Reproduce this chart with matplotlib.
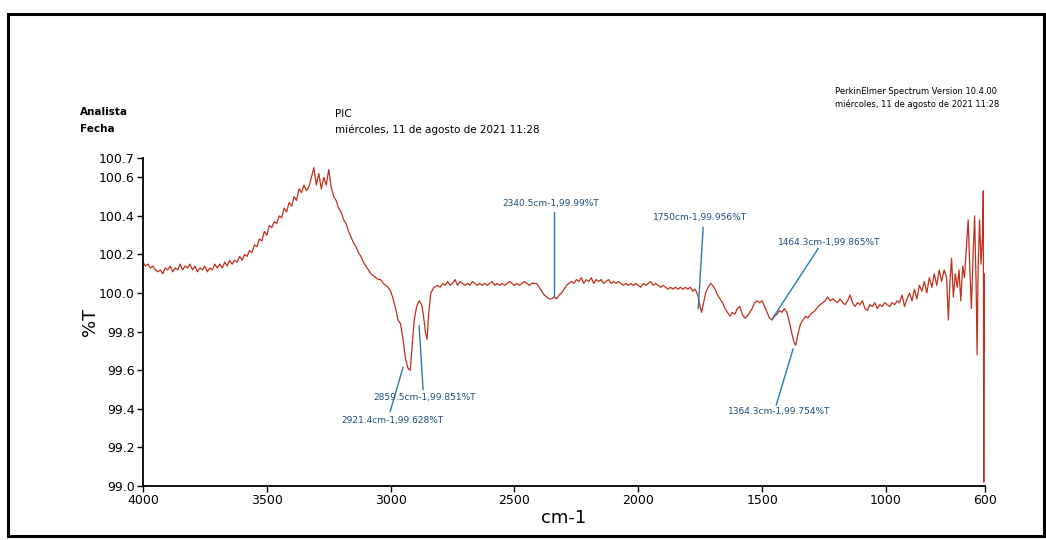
import matplotlib.pyplot as plt
from matplotlib.patches import Rectangle

# 光谱数据 (cm-1, %T)
wn = [4000, 3990, 3980, 3970, 3960, 3950, 3940, 3930, 3920, 3910, 3900, 3890, 3880, 3870, 3860,
      3850, 3840, 3830, 3820, 3810, 3800, 3790, 3780, 3770, 3760, 3750, 3740, 3730, 3720, 3710,
      3700, 3690, 3680, 3670, 3660, 3650, 3640, 3630, 3620, 3610, 3600, 3590, 3580, 3570, 3560,
      3550, 3540, 3530, 3520, 3510, 3500, 3490, 3480, 3470, 3460, 3450, 3440, 3430, 3420, 3410,
      3400, 3390, 3380, 3370, 3360, 3350, 3340, 3330, 3320, 3310, 3300, 3290, 3280, 3270, 3260,
      3250, 3240, 3230, 3220, 3210, 3200, 3190, 3180, 3170, 3160, 3150, 3140, 3130, 3120, 3110,
      3100, 3090, 3080, 3070, 3060, 3050, 3040, 3030, 3020, 3010, 3000, 2990, 2980, 2970, 2960,
      2950, 2940, 2930, 2921, 2915, 2905, 2895, 2885, 2875, 2868, 2860, 2853, 2846, 2838, 2825,
      2810, 2800, 2790, 2780, 2770, 2760, 2750, 2740, 2730, 2720, 2710, 2700, 2690, 2680, 2670,
      2660, 2650, 2640, 2630, 2620, 2610, 2600, 2590, 2580, 2570, 2560, 2550, 2540, 2530, 2520,
      2510, 2500, 2490, 2480, 2470, 2460, 2450, 2440, 2430, 2420, 2410, 2400, 2390, 2380, 2370,
      2360, 2350, 2340, 2330, 2320, 2310, 2300, 2290, 2280, 2270, 2260, 2250, 2240, 2230, 2220,
      2210, 2200, 2190, 2180, 2170, 2160, 2150, 2140, 2130, 2120, 2110, 2100, 2090, 2080, 2070,
      2060, 2050, 2040, 2030, 2020, 2010, 2000, 1990, 1980, 1970, 1960, 1950, 1940, 1930, 1920,
      1910, 1900, 1890, 1880, 1870, 1860, 1850, 1840, 1830, 1820, 1810, 1800, 1790, 1780, 1770,
      1760, 1752, 1745, 1738, 1728, 1718, 1708, 1700, 1690, 1680, 1670, 1660, 1650, 1640, 1630,
      1620, 1610, 1600, 1590, 1580, 1570, 1560, 1550, 1540, 1530, 1520, 1510, 1500, 1490, 1480,
      1470, 1460, 1450, 1440, 1430, 1420, 1410, 1400, 1390, 1380, 1370, 1364, 1355, 1345, 1335,
      1325, 1315, 1305, 1295, 1285, 1275, 1265, 1255, 1245, 1235, 1225, 1215, 1205, 1195, 1185,
      1175, 1165, 1155, 1145, 1135, 1125, 1115, 1105, 1095, 1085, 1075, 1065, 1055, 1045, 1035,
      1025, 1015, 1005, 995, 985, 975, 965, 955, 945, 935, 925, 915, 905, 895, 885,
      875, 865, 855, 845, 835, 825, 815, 805, 795, 785, 775, 765, 755, 748, 742,
      735, 728, 720, 712, 705, 698, 690, 683, 676, 668, 662, 655, 648, 642, 636,
      632, 628, 622, 616, 610, 607, 605, 603, 600]
T = [100.16, 100.14, 100.15, 100.13, 100.14, 100.12, 100.11, 100.12, 100.10, 100.13, 100.12, 100.14, 100.11, 100.13, 100.12,
     100.15, 100.12, 100.14, 100.13, 100.15, 100.12, 100.14, 100.11, 100.13, 100.12, 100.14, 100.11, 100.13, 100.12, 100.15,
     100.13, 100.15, 100.13, 100.16, 100.14, 100.17, 100.15, 100.17, 100.16, 100.19, 100.17, 100.20, 100.19, 100.22, 100.21,
     100.25, 100.24, 100.28, 100.27, 100.32, 100.30, 100.35, 100.34, 100.37, 100.36, 100.40, 100.39, 100.44, 100.42, 100.47,
     100.45, 100.50, 100.48, 100.54, 100.52, 100.56, 100.53, 100.55, 100.60, 100.65, 100.56, 100.62, 100.54, 100.60, 100.56,
     100.64, 100.55, 100.50, 100.48, 100.44, 100.42, 100.38, 100.36, 100.32, 100.29, 100.26, 100.24, 100.21, 100.19, 100.16,
     100.14, 100.12, 100.10, 100.09, 100.08, 100.07, 100.07, 100.05, 100.04, 100.03, 100.01, 99.97, 99.92, 99.86, 99.84,
     99.76, 99.66, 99.61, 99.60, 99.70, 99.86, 99.93, 99.96, 99.94, 99.89, 99.80, 99.76, 99.90, 100.00, 100.03,
     100.04, 100.03, 100.05, 100.04, 100.06, 100.04, 100.05, 100.07, 100.04, 100.06, 100.05, 100.04, 100.05, 100.04, 100.06,
     100.05, 100.04, 100.05, 100.04, 100.05, 100.04, 100.05, 100.06, 100.04, 100.05, 100.04, 100.05, 100.04, 100.05, 100.06,
     100.05, 100.04, 100.05, 100.04, 100.05, 100.06, 100.05, 100.04, 100.05, 100.05, 100.05, 100.03, 100.01, 99.99, 99.98,
     99.97, 99.97, 99.98, 99.97, 99.99, 100.00, 100.02, 100.04, 100.05, 100.06, 100.05, 100.07, 100.06, 100.08, 100.05,
     100.07, 100.06, 100.08, 100.05, 100.07, 100.06, 100.07, 100.05, 100.06, 100.07, 100.05, 100.06, 100.05, 100.06, 100.05,
     100.04, 100.05, 100.04, 100.05, 100.04, 100.05, 100.04, 100.03, 100.05, 100.04, 100.05, 100.06, 100.04, 100.05, 100.04,
     100.03, 100.04, 100.03, 100.02, 100.03, 100.02, 100.03, 100.02, 100.03, 100.02, 100.03, 100.02, 100.03, 100.01, 100.02,
     99.99, 99.94, 99.90, 99.94, 100.00, 100.03, 100.05, 100.04, 100.02, 99.99, 99.97, 99.95, 99.92, 99.90, 99.88,
     99.90, 99.89, 99.92, 99.93, 99.89, 99.87, 99.88, 99.90, 99.92, 99.95, 99.96, 99.95, 99.96, 99.93, 99.90,
     99.87, 99.86, 99.88, 99.89, 99.91, 99.90, 99.92, 99.90, 99.85, 99.79, 99.74, 99.73, 99.79, 99.84, 99.86,
     99.88, 99.87, 99.89, 99.90, 99.91, 99.93, 99.94, 99.95, 99.96, 99.98, 99.96, 99.97, 99.96, 99.95, 99.97,
     99.95, 99.94, 99.96, 99.99, 99.95, 99.93, 99.95, 99.94, 99.96, 99.92, 99.91, 99.94, 99.93, 99.95, 99.92,
     99.94, 99.93, 99.95, 99.94, 99.93, 99.95, 99.94, 99.96, 99.95, 99.99, 99.93, 99.97, 100.00, 99.96, 100.02,
     99.97, 100.04, 100.01, 100.06, 100.00, 100.08, 100.03, 100.10, 100.04, 100.12, 100.06, 100.12, 100.08, 99.86, 100.05,
     100.18, 99.98, 100.10, 100.03, 100.12, 99.96, 100.14, 100.08, 100.22, 100.38, 100.15, 99.92, 100.20, 100.40, 100.05,
     99.68, 100.12, 100.38, 100.15, 100.30, 100.53, 99.02, 100.10, 99.70]

# 峰标注
peak_labels = ['2340.5cm-1,99.99%T', '1750cm-1,99.956%T', '1464.3cm-1,99.865%T',
               '1364.3cm-1,99.754%T', '2859.5cm-1,99.851%T', '2921.4cm-1,99.628%T']
peak_xy = [(2340.5, 99.98), (1758, 99.92), (1460, 99.865), (1375, 99.71), (2885, 99.83), (2950, 99.615)]
line_end = [(2340.5, 100.42), (1738, 100.34), (1274, 100.23), (1443, 99.42), (2869, 99.50), (3002, 99.385)]
text_xy = [(2355, 100.465), (1750, 100.39), (1229, 100.26), (1431, 99.385), (2861, 99.46), (2994, 99.34)]

fig = plt.figure(figsize=(10.46, 5.4), dpi=100)
ax = fig.add_axes([0.1367, 0.1, 0.805, 0.6074])

ax.plot(wn, T, color='#c0301c', lw=0.9)

## 标注线和文字
for lab, p, e, t in zip(peak_labels, peak_xy, line_end, text_xy):
    ax.plot([p[0], e[0]], [p[1], e[1]], color='#2c7bb0', lw=1)
    ax.text(t[0], t[1], lab, ha='center', va='center', fontsize=6.5, color='#1d4f7a')

ax.set_xlim(4000, 600)
ax.set_ylim(99.0, 100.7)
ax.set_xticks([4000, 3500, 3000, 2500, 2000, 1500, 1000, 600])
yt = [99.0, 99.2, 99.4, 99.6, 99.8, 100.0, 100.2, 100.4, 100.6, 100.7]
ax.set_yticks(yt)
ax.set_yticklabels(['%.1f' % v for v in yt])
ax.tick_params(labelsize=9, length=4, width=1, pad=2)
ax.spines['top'].set_visible(False)
ax.spines['right'].set_visible(False)
ax.spines['left'].set_linewidth(1.3)
ax.spines['bottom'].set_linewidth(1.3)
ax.set_xlabel('cm-1', fontsize=13, labelpad=1)
ax.set_ylabel('%T', fontsize=13, labelpad=0)

## 页眉文字
fig.text(80 / 1046, 1 - 112 / 540, 'Analista', fontsize=7.5, fontweight='bold', va='center')
fig.text(80 / 1046, 1 - 129 / 540, 'Fecha', fontsize=7.5, fontweight='bold', va='center')
fig.text(335 / 1046, 1 - 114 / 540, 'PIC', fontsize=7.5, va='center')
fig.text(335 / 1046, 1 - 130 / 540, 'miércoles, 11 de agosto de 2021 11:28', fontsize=7.5, va='center')
fig.text(835 / 1046, 1 - 91 / 540, 'PerkinElmer Spectrum Version 10.4.00', fontsize=6, va='center')
fig.text(835 / 1046, 1 - 104 / 540, 'miércoles, 11 de agosto de 2021 11:28', fontsize=6, va='center')

## 外框
fig.patches.append(Rectangle((0.008, 0.008), 0.99, 0.966, transform=fig.transFigure,
                             fill=False, lw=2.2, color='black'))

fig.savefig('out.png', dpi=100)
